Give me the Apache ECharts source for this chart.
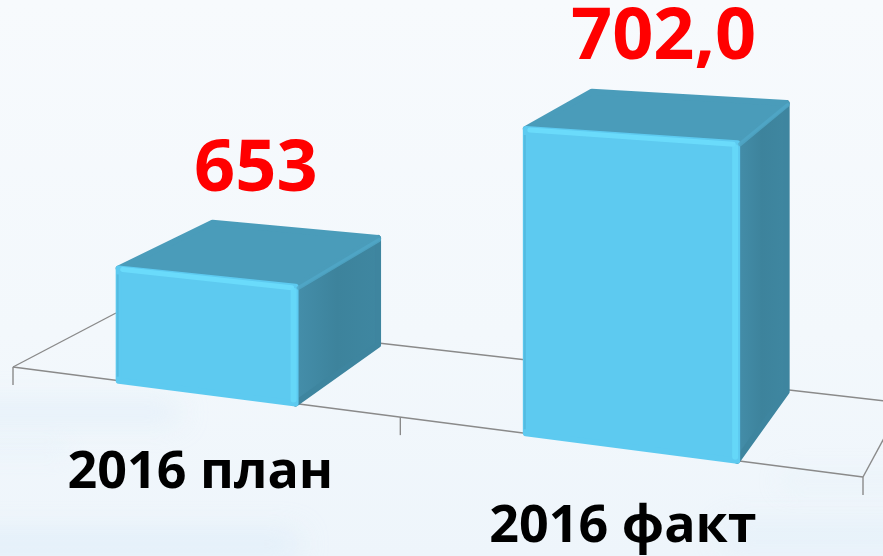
<!DOCTYPE html>
<html><head><meta charset="utf-8">
<script src="https://cdn.jsdelivr.net/npm/echarts@6/dist/echarts.min.js"></script>
<style>html,body{margin:0;padding:0;background:#f5f9fd}#c{width:883px;height:556px}</style>
</head><body><div id="c"></div><script>
// ---- data ----
const categories = ['2016 план', '2016 факт'];
const values = [653, 702.0];
const valueLabels = ['653', '702,0'];
const axisMin = 620;
const axisMax = 710;

// ---- layout: perspective floor of the 3D plot (pixel corners) ----
const FL = [13, 367], FR = [863, 477], BR = [903, 403], BLc = [116, 313];
function homography(p00, p10, p11, p01) {
  const [x0, y0] = p00, [x1, y1] = p10, [x2, y2] = p11, [x3, y3] = p01;
  const dx1 = x1 - x2, dx2 = x3 - x2, dy1 = y1 - y2, dy2 = y3 - y2;
  const sx = x0 - x1 + x2 - x3, sy = y0 - y1 + y2 - y3;
  const det = dx1 * dy2 - dx2 * dy1;
  const g = (sx * dy2 - dx2 * sy) / det, h = (dx1 * sy - sx * dy1) / det;
  return { a: x1 - x0 + g * x1, b: x3 - x0 + h * x3, c: x0,
           d: y1 - y0 + g * y1, e: y3 - y0 + h * y3, f: y0, g, h };
}
const HM = homography(FL, FR, BR, BLc);
function proj(u, w, hpx) {
  const D = HM.g * u + HM.h * w + 1;
  return [(HM.a * u + HM.b * w + HM.c) / D, (HM.d * u + HM.e * w + HM.f) / D - hpx / D];
}

const FONT = '"Open Sans", "Noto Sans", sans-serif';
const chart = echarts.init(document.getElementById('c'), null, { renderer: 'canvas' });

function blurBand(x, y, w, h, color, blur) {
  return { type: 'rect', z: -90, silent: true,
    shape: { x: x - 3000, y: y, width: w, height: h },
    style: { fill: color, shadowBlur: blur, shadowColor: color, shadowOffsetX: 3000 } };
}

const option = {
  animation: false,
  backgroundColor: '#f5f9fd',
  graphic: [
    { type: 'rect', z: -100, silent: true, shape: { x: 0, y: 0, width: 883, height: 556 },
      style: { fill: new echarts.graphic.LinearGradient(0, 0, 0, 1, [
        { offset: 0, color: '#f7fafd' }, { offset: 0.6, color: '#f3f8fc' }, { offset: 1, color: '#eef5fb' }]) } },
    blurBand(-60, 402, 240, 20, 'rgba(200,224,244,0.6)', 30),
    blurBand(-60, 442, 130, 14, 'rgba(208,228,246,0.5)', 24),
    blurBand(-60, 532, 360, 24, 'rgba(200,224,244,0.6)', 30),
    blurBand(720, 522, 260, 28, 'rgba(208,228,246,0.55)', 30),
    blurBand(780, 472, 160, 18, 'rgba(212,230,247,0.45)', 24)
  ],
  grid: { left: 0, right: 0, top: 100, height: 299 },
  xAxis: { type: 'category', data: categories, show: false, boundaryGap: true },
  yAxis: { type: 'value', min: axisMin, max: axisMax, show: false },
  series: [
    { // floor of the 3D plot area
      type: 'custom', silent: true, z: 1,
      data: [[0, axisMin]],
      renderItem: function (params, api) {
        const n = categories.length;
        const lineStyle = { stroke: '#8a8a8a', lineWidth: 1.4, fill: null };
        const ch = [];
        const edge = (pts) => ch.push({ type: 'polyline', shape: { points: pts }, style: lineStyle });
        edge([proj(0, 0, 0), proj(1, 0, 0)]);
        edge([proj(0, 0, 0), proj(0, 1, 0)]);
        edge([proj(0, 1, 0), proj(1, 1, 0)]);
        edge([proj(1, 0, 0), proj(1, 1, 0)]);
        for (let i = 0; i <= n; i++) {
          const p = proj(i / n, 0, 0);
          edge([p, [p[0], p[1] + 18]]);
        }
        return { type: 'group', children: ch };
      }
    },
    { // 3D bars
      type: 'custom', z: 2,
      data: values.map((v, i) => [i, v]),
      renderItem: function (params, api) {
        const cs = params.coordSys;
        const i = api.value(0), v = api.value(1);
        const top = api.coord([i, v]);
        const base = api.coord([i, axisMin]);
        const hpx = base[1] - top[1];
        const uc = (top[0] - cs.x) / cs.width + 0.009;
        const hu = api.size([1, 0])[0] * 0.228 / cs.width;
        const u0 = uc - hu, u1 = uc + hu, w0 = 0, w1 = 0.97;
        const fbl = proj(u0, w0, 0), fbr = proj(u1, w0, 0);
        const ftl = proj(u0, w0, hpx), ftr = proj(u1, w0, hpx);
        const btl = proj(u0, w1, hpx), btr = proj(u1, w1, hpx), bbr = proj(u1, w1, 0);
        const rj = { lineJoin: 'round', lineWidth: 6 };
        const ch = [];
        ch.push({ type: 'polygon', shape: { points: [ftr, btr, bbr, fbr] },
          style: Object.assign({ fill: new echarts.graphic.LinearGradient(0, 0, 1, 0, [
            { offset: 0, color: '#458fab' }, { offset: 0.5, color: '#3d839c' }, { offset: 1, color: '#3f87a1' }]), stroke: '#3e859f' }, rj) });
        ch.push({ type: 'polygon', shape: { points: [ftl, ftr, btr, btl] },
          style: Object.assign({ fill: '#4a9cba', stroke: '#4a9cba' }, rj) });
        ch.push({ type: 'polygon', shape: { points: [ftl, ftr, fbr, fbl] },
          style: Object.assign({ fill: '#5dcaf0', stroke: '#5dcaf0' }, rj) });
        // edge highlights (rounded bevel)
        ch.push({ type: 'line', shape: { x1: ftl[0] + 4, y1: ftl[1] + 1, x2: ftr[0] - 4, y2: ftr[1] + 1 },
          style: { stroke: 'rgba(112,226,255,0.7)', lineWidth: 5, lineCap: 'round' } });
        ch.push({ type: 'line', shape: { x1: ftr[0] - 2, y1: ftr[1] + 4, x2: fbr[0] - 2, y2: fbr[1] - 4 },
          style: { stroke: 'rgba(104,218,250,0.8)', lineWidth: 6, lineCap: 'round' } });
        ch.push({ type: 'line', shape: { x1: ftr[0] + 3, y1: ftr[1] + 1, x2: btr[0] + 1, y2: btr[1] + 2 },
          style: { stroke: 'rgba(80,168,200,0.8)', lineWidth: 4, lineCap: 'round' } });
        ch.push({ type: 'line', shape: { x1: ftl[0] - 1, y1: ftl[1] + 6, x2: fbl[0] - 1, y2: fbl[1] - 4 },
          style: { stroke: 'rgba(78,176,214,0.6)', lineWidth: 2 } });
        // value label above the bar
        const lc = proj(uc, 0.5, hpx), lb = proj(uc, 1, hpx);
        ch.push({ type: 'text', style: { text: valueLabels[i], x: lc[0] + 3, y: lb[1] - 58,
          fill: '#ff0000', font: 'bold 72px ' + FONT, align: 'center', verticalAlign: 'middle' } });
        // category label under the floor
        const cp = proj(uc - 0.009, 0, 0);
        ch.push({ type: 'text', style: { text: categories[i], x: cp[0] + 2, y: cp[1] + 82,
          fill: '#000000', font: 'bold 52px ' + FONT, align: 'center', verticalAlign: 'middle' } });
        return { type: 'group', children: ch };
      }
    }
  ]
};
chart.setOption(option);
</script></body></html>
